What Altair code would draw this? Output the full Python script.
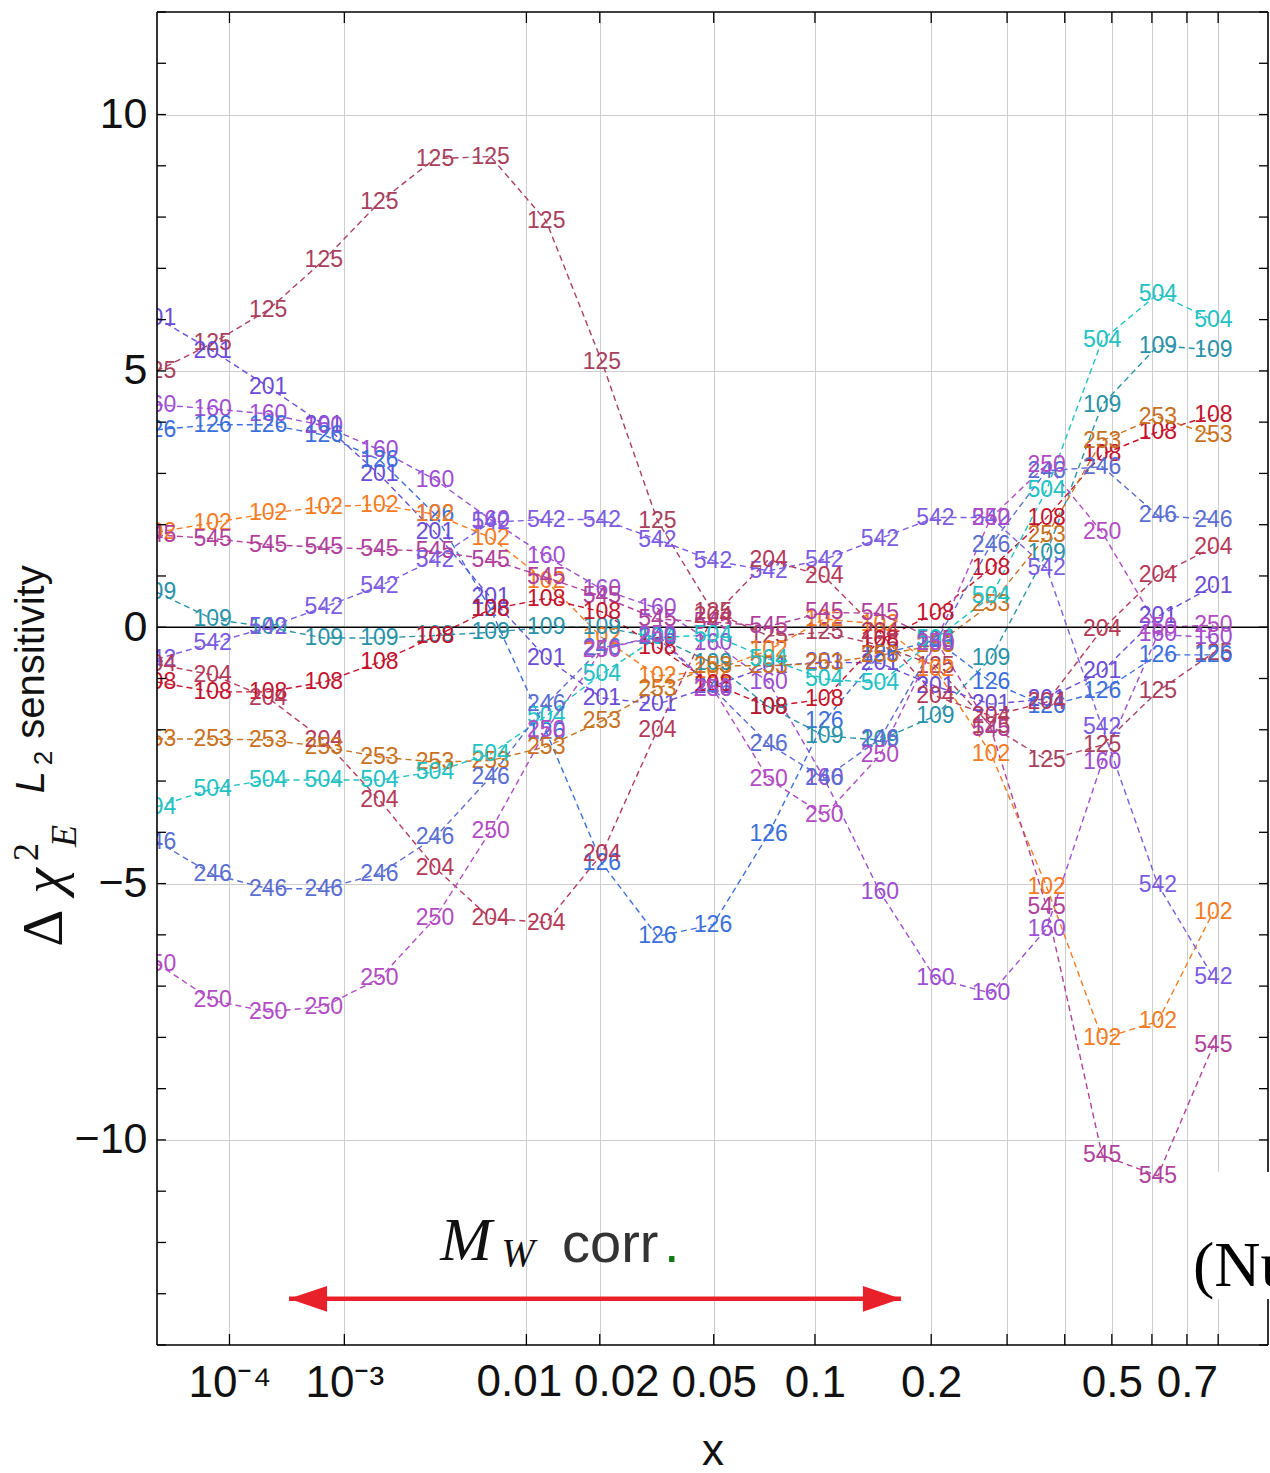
import altair as alt
import pandas as pd

# ---------------------------------------------------------------------------
# Sampling points in x (equally spaced in x^0.2)
# ---------------------------------------------------------------------------
x_points = [1.0e-5, 6.38e-5, 2.459e-4, 7.108e-4, 1.705e-3, 3.590e-3, 6.862e-3,
            0.01218, 0.02037, 0.03247, 0.04974, 0.07369, 0.1061, 0.1490,
            0.2047, 0.2761, 0.3661, 0.4781, 0.6161, 0.7841]

# L2 sensitivity of each experiment at the sampling points
experiments = ["125", "201", "160", "126", "102", "545", "109",
               "542", "108", "204", "253", "504", "246", "250"]

s125 = [5.0, 5.54, 6.19, 7.16, 8.29, 9.14, 9.18, 7.92, 5.18, 2.08,
        0.3, -0.17, -0.1, -0.35, -0.75, -1.93, -2.59, -2.3, -1.25, -0.5]
s201 = [6.03, 5.39, 4.69, 3.95, 2.98, 1.85, 0.58, -0.6, -1.38, -1.5,
        -1.15, -0.76, -0.68, -0.7, -1.15, -1.5, -1.4, -0.86, 0.21, 0.8]
s160 = [4.34, 4.26, 4.16, 3.93, 3.46, 2.88, 2.1, 1.38, 0.74, 0.37,
        -0.3, -1.07, -2.95, -5.16, -6.85, -7.14, -5.88, -2.63, -0.14, -0.2]
s126 = [3.85, 3.95, 3.95, 3.75, 3.27, 2.2, 0.35, -2.04, -4.6, -6.03,
        -5.8, -4.03, -1.83, -0.53, -0.25, -1.07, -1.54, -1.25, -0.54, -0.54]
s102 = [1.85, 2.04, 2.22, 2.35, 2.39, 2.2, 1.75, 0.9, -0.2, -0.95,
        -0.85, -0.45, 0.16, 0.06, -0.82, -2.47, -5.06, -8.02, -7.69, -5.55]
s545 = [1.8, 1.73, 1.61, 1.56, 1.52, 1.48, 1.32, 0.97, 0.6, 0.16,
        0.1, 0.02, 0.29, 0.27, -0.25, -1.98, -5.45, -10.3, -10.7, -8.15]
s109 = [0.68, 0.16, 0.0, -0.21, -0.21, -0.16, -0.1, 0.0, 0.0, -0.2,
        -0.7, -1.55, -2.12, -2.2, -1.73, -0.6, 1.45, 4.34, 5.49, 5.41]
s542 = [-0.62, -0.31, 0.0, 0.39, 0.8, 1.32, 2.05, 2.1, 2.1, 1.71,
        1.3, 1.1, 1.32, 1.73, 2.14, 2.14, 1.15, -1.95, -5.02, -6.83]
s108 = [-1.07, -1.26, -1.26, -1.07, -0.68, -0.18, 0.35, 0.56, 0.3, -0.39,
        -1.1, -1.55, -1.4, -0.25, 0.27, 1.15, 2.14, 3.37, 3.81, 4.14]
s204 = [-0.72, -0.93, -1.38, -2.2, -3.37, -4.69, -5.68, -5.76, -4.42, -2.0,
        0.21, 1.32, 0.99, -0.1, -1.34, -1.73, -1.46, -0.04, 1.01, 1.56]
s253 = [-2.18, -2.18, -2.2, -2.33, -2.53, -2.63, -2.6, -2.33, -1.83, -1.2,
        -0.75, -0.75, -0.7, -0.55, -0.35, 0.45, 1.79, 3.64, 4.1, 3.74]
s504 = [-3.5, -3.15, -2.98, -2.98, -2.98, -2.82, -2.47, -1.73, -0.91, -0.2,
        -0.15, -0.62, -1.01, -1.09, -0.23, 0.6, 2.68, 5.6, 6.5, 5.99]
s246 = [-4.18, -4.82, -5.1, -5.1, -4.81, -4.1, -2.92, -1.5, -0.4, -0.2,
        -1.2, -2.28, -2.95, -2.18, -0.3, 1.61, 3.05, 3.13, 2.18, 2.1]
s250 = [-6.56, -7.28, -7.5, -7.4, -6.85, -5.68, -3.97, -2.0, -0.45, -0.15,
        -1.2, -2.96, -3.67, -2.5, -0.3, 2.14, 3.17, 1.85, 0.0, 0.04]

sensitivities = [s125, s201, s160, s126, s102, s545, s109,
                 s542, s108, s204, s253, s504, s246, s250]

colors = ["#a9405e", "#6a4cd6", "#9d4fd2", "#3d6fdc", "#f47b22", "#b0419b",
          "#2a92a8", "#7c5ce0", "#c3132d", "#b53a5a", "#c8711f", "#22c1c3",
          "#5a6ed2", "#b24cc4"]

# Axis ticks; 0.01 and 0.02 are drawn separately, nudged apart
x_tick_vals = [1e-4, 1e-3, 0.01, 0.02, 0.05, 0.1, 0.2, 0.3, 0.4, 0.5, 0.6, 0.7, 0.8]
x_tick_text = ["10⁻⁴", "10⁻³", "", "", "0.05", "0.1", "0.2",
               "", "", "0.5", "", "0.7", ""]
y_tick_vals = [-10, -5, 0, 5, 10]
y_minor_vals = list(range(-14, 13))

# Range covered by the M_W correlation arrow
arrow_x = [3.76e-4, 0.1685]
arrow_y = -13.1

# ---------------------------------------------------------------------------
rows = []
for name, vals in zip(experiments, sensitivities):
    for i, (xv, yv) in enumerate(zip(x_points, vals)):
        rows.append({"x": xv, "y": yv, "expt": name, "i": i})
df = pd.DataFrame(rows)

W, H = 1111, 1333
LEFT, TOP = 157, 12

FONT = "Liberation Sans, Arial, sans-serif"
SERIF = "Liberation Serif, Times New Roman, serif"
TICK_FS = 44
LABEL_PAD = 16

xscale = alt.Scale(type="pow", exponent=0.2, domain=[1e-5, 0.983], zero=False, nice=False)
yscale = alt.Scale(domain=[-14, 12], zero=False, nice=False)
cscale = alt.Scale(domain=experiments, range=colors)

vals_js = ",".join(repr(v) for v in x_tick_vals)
text_js = ",".join("'" + t + "'" for t in x_tick_text)
label_expr = f"[{text_js}][indexof([{vals_js}], datum.value)]"

xaxis = alt.Axis(values=x_tick_vals, labelExpr=label_expr, grid=True, ticks=False,
                 domain=False, labelFont=FONT, labelFontSize=TICK_FS, labelColor="#111",
                 labelPadding=LABEL_PAD, labelFlush=False, labelOverlap=False,
                 title="x", titleFont=FONT, titleFontSize=44,
                 titleFontWeight="normal", titleColor="#111",
                 titleBaseline="alphabetic", titleY=119)
yaxis = alt.Axis(values=y_tick_vals, grid=True, ticks=False, domain=False,
                 labelFont=FONT, labelFontSize=43, labelColor="#111",
                 labelPadding=10, title="")

one = pd.DataFrame({"k": [0]})

base = alt.Chart(df)
lines = base.mark_line(strokeDash=[6, 4], strokeWidth=1.4, clip=True).encode(
    x=alt.X("x:Q", scale=xscale, axis=xaxis),
    y=alt.Y("y:Q", scale=yscale, axis=yaxis),
    color=alt.Color("expt:N", scale=cscale, legend=None),
    detail="expt:N",
    order="i:Q",
)
labels = base.mark_text(font="Liberation Sans", fontSize=23, clip=True,
                        baseline="middle", align="center").encode(
    x=alt.X("x:Q", scale=xscale),
    y=alt.Y("y:Q", scale=yscale),
    text="expt:N",
    color=alt.Color("expt:N", scale=cscale, legend=None),
)

# the two crowded tick labels, pushed slightly apart
crowded = [
    alt.Chart(pd.DataFrame({"v": [0.01]})).mark_text(
        text="0.01", font=FONT, fontSize=TICK_FS, color="#111", baseline="top",
        align="center", dx=-7).encode(
        x=alt.X("v:Q", scale=xscale), y=alt.value(H + LABEL_PAD)),
    alt.Chart(pd.DataFrame({"v": [0.02]})).mark_text(
        text="0.02", font=FONT, fontSize=TICK_FS, color="#111", baseline="top",
        align="center", dx=17).encode(
        x=alt.X("v:Q", scale=xscale), y=alt.value(H + LABEL_PAD)),
]

zero_line = alt.Chart(one).mark_rule(color="black", strokeWidth=1.4).encode(
    y=alt.datum(0, scale=yscale))

# frame around the plot area
frame = [
    alt.Chart(one).mark_rule(color="black", strokeWidth=1.6).encode(
        x=alt.value(0), y=alt.value(0), y2=alt.value(H)),
    alt.Chart(one).mark_rule(color="black", strokeWidth=1.6).encode(
        x=alt.value(W), y=alt.value(0), y2=alt.value(H)),
    alt.Chart(one).mark_rule(color="black", strokeWidth=1.6).encode(
        y=alt.value(0), x=alt.value(0), x2=alt.value(W)),
    alt.Chart(one).mark_rule(color="black", strokeWidth=1.6).encode(
        y=alt.value(H), x=alt.value(0), x2=alt.value(W)),
]

ydf = pd.DataFrame({"v": y_minor_vals})
xdf = pd.DataFrame({"v": x_tick_vals})
ticks = [
    alt.Chart(ydf).mark_rule(color="black", strokeWidth=1.3).encode(
        y=alt.Y("v:Q", scale=yscale), x=alt.value(0), x2=alt.value(9)),
    alt.Chart(ydf).mark_rule(color="black", strokeWidth=1.3).encode(
        y=alt.Y("v:Q", scale=yscale), x=alt.value(W - 9), x2=alt.value(W)),
    alt.Chart(xdf).mark_rule(color="black", strokeWidth=1.3).encode(
        x=alt.X("v:Q", scale=xscale), y=alt.value(H - 11), y2=alt.value(H)),
    alt.Chart(xdf).mark_rule(color="black", strokeWidth=1.3).encode(
        x=alt.X("v:Q", scale=xscale), y=alt.value(0), y2=alt.value(11)),
]

# M_W correlation range arrow
adf = pd.DataFrame({"x": [arrow_x[0]], "x2": [arrow_x[1]], "y": [arrow_y]})
red = "#e8202a"
arrow_shaft = alt.Chart(adf).mark_rule(color=red, strokeWidth=4.5).encode(
    x=alt.X("x:Q", scale=xscale), x2="x2:Q", y=alt.Y("y:Q", scale=yscale))
head_l = alt.Chart(adf).mark_point(shape="M0,0L2,-0.68L2,0.68Z", filled=True,
                                   size=1444, color=red, opacity=1, strokeWidth=0).encode(
    x=alt.X("x:Q", scale=xscale), y=alt.Y("y:Q", scale=yscale))
head_r = alt.Chart(adf).mark_point(shape="M0,0L-2,-0.68L-2,0.68Z", filled=True,
                                   size=1444, color=red, opacity=1, strokeWidth=0).encode(
    x=alt.X("x2:Q", scale=xscale), y=alt.Y("y:Q", scale=yscale))


def txt(s, x, y, size, font=FONT, style="normal", angle=0, align="center",
        baseline="alphabetic", color="#111"):
    """Place a piece of text at absolute page coordinates."""
    return alt.Chart(one).mark_text(text=s, font=font, fontSize=size, fontStyle=style,
                                    angle=angle, align=align, baseline=baseline,
                                    color=color).encode(
        x=alt.value(x - LEFT), y=alt.value(y - TOP))


# vertical axis title:  Δχ²_E  L₂ sensitivity
ytitle = [
    txt("Δ", 62, 928, 58, font=SERIF, angle=270),
    txt("χ", 62, 881, 58, font=SERIF, style="italic", angle=270),
    txt("2", 38, 852, 36, font=SERIF, angle=270),
    txt("E", 76, 836, 36, font=SERIF, style="italic", angle=270),
    txt("L", 44, 782, 40, font="Liberation Sans", style="italic", angle=270),
    txt("2", 52, 758, 26, font="Liberation Sans", angle=270),
    txt("sensitivity", 44, 652, 40, font="Liberation Sans", angle=270),
]

mw_label = [
    txt("M", 466, 1260, 62, font=SERIF, style="italic"),
    txt("W", 518, 1266, 40, font=SERIF, style="italic"),
    txt("corr", 562, 1262, 56, align="left", color="#333"),
    txt(".", 664, 1262, 56, align="left", color="#137a13"),
]

# overlay box in the lower right corner
cover = alt.Chart(one).mark_rect(color="white", opacity=1).encode(
    x=alt.value(1195 - LEFT), x2=alt.value(1280 - LEFT),
    y=alt.value(1172 - TOP), y2=alt.value(1299 - TOP))
nu_text = txt("(Nu", 1193, 1286, 64, font=SERIF, align="left", color="#000")

chart = alt.layer(
    lines, zero_line, labels, *frame, *ticks, *crowded,
    arrow_shaft, head_l, head_r, *ytitle, *mw_label, cover, nu_text,
).properties(
    width=W, height=H,
    padding={"left": LEFT, "top": TOP, "right": 2, "bottom": 128},
    autosize=alt.AutoSizeParams(type="none"),
    background="white",
).configure_view(
    strokeWidth=0,
).configure_axis(
    gridColor="#cdcdcd", gridWidth=1,
)

chart.save("out.html", embed_options={"renderer": "svg", "actions": False})
